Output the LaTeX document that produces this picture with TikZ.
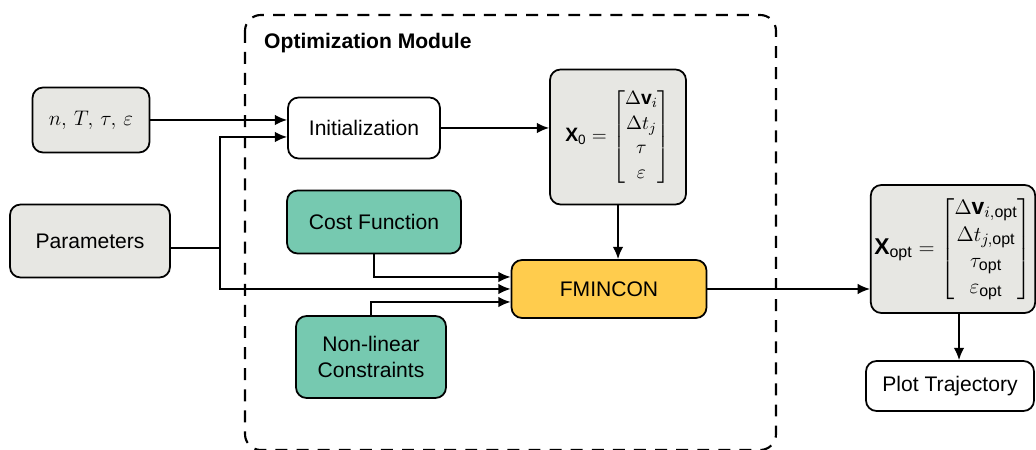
\documentclass[tikz,border=0pt]{standalone}
\usepackage{amsmath}
\usepackage{fontspec}
\setmainfont{Liberation Sans}
\usepackage{tikz}
\usetikzlibrary{arrows.meta,positioning,calc}
\definecolor{boxgray}{HTML}{E7E7E3}
\definecolor{costgreen}{HTML}{76C9B0}
\definecolor{fminorange}{HTML}{FFCC4D}
\tikzstyle{block} = [rectangle, draw, fill=white, align=center, rounded corners=6pt,
inner sep=2pt, line width=1pt, font=\fontsize{12}{14.5}\selectfont]
\tikzstyle{inputblock} = [block, fill=boxgray]
\tikzstyle{funcblock} = [block, fill=costgreen]
\tikzstyle{solverblock} = [block, fill=fminorange]
\tikzstyle{line} = [draw, -{Latex[length=7pt,width=6pt]}, line width=0.9pt]

\begin{document}
\begin{tikzpicture}[x=0.2mm, y=-0.2mm]
    \useasboundingbox (0,0) rectangle (1036,450);

    % Module frame
    \draw[line width=1.2pt, dash pattern=on 6.8pt off 5.2pt, rounded corners=9pt] (245,15) rectangle (776,450);
    \node[anchor=west, font=\bfseries\fontsize{12}{14}\selectfont] (modtitle) at (258,43) {Optimization Module};

    % Nodes
    \node [inputblock, minimum width=23.4mm, minimum height=13mm] (inputs) at (91,120) {$n,\,T,\,\tau,\,\varepsilon$};
    \node [inputblock, minimum width=32mm, minimum height=14.6mm] (params) at (90,241) {Parameters};
    \node [block, minimum width=30.4mm, minimum height=12.2mm] (init) at (364,128) {Initialization};
    \node [inputblock, minimum width=27.2mm, minimum height=27mm, font=\fontsize{11}{13}\selectfont] (xzero) at (618,137)
        {$\textbf{X}_{\text{0}} = \begin{bmatrix}\Delta\textbf{v}_i\\[1pt] \Delta t_j\\[1pt] \tau\\[1pt] \varepsilon\end{bmatrix}$};
    \node [funcblock, minimum width=34.8mm, minimum height=12.6mm] (cost) at (374,222) {Cost Function};
    \node [funcblock, minimum width=30mm, minimum height=16.4mm] (nlcon) at (371,357) {Non-linear\\Constraints};
    \node [solverblock, minimum width=39mm, minimum height=11.6mm] (fmincon) at (609,289) {FMINCON};
    \node [inputblock, minimum width=32.4mm, minimum height=25.6mm, font=\fontsize{13}{15}\selectfont] (xopt) at (953,249)
        {$\textbf{X}_{\text{opt}} = \begin{bmatrix}\Delta\textbf{v}_{i,\text{opt}}\\ \Delta t_{j,\text{opt}}\\ \tau_{\text{opt}}\\ \varepsilon_{\text{opt}}\end{bmatrix}$};
    \node [block, minimum width=33.6mm, minimum height=10mm] (plot) at (950,386) {Plot Trajectory};

    % arrows
    \coordinate (split) at (220,248);
    \coordinate (xoptout) at ($(xopt.south)+(6,0)$);
    \draw[line] (inputs.east) -- (init.west |- inputs.east);
    \draw[line width=0.9pt] (params.east |- split) -- (split);
    \draw[line] (split) |- ($(init.west)+(0,9)$);
    \draw[line] (split) |- (fmincon.west);
    \draw[line] (init.east) -- (xzero.west |- init.east);
    \draw[line] (xzero.south) -- (xzero.south |- fmincon.north);
    \draw[line] (cost.south) |- ($(fmincon.west)+(0,-12)$);
    \draw[line] (nlcon.north) |- ($(fmincon.west)+(0,13)$);
    \draw[line] (fmincon.east) -- (xopt.west |- fmincon.east);
    \draw[line] (xoptout) -- (xoptout |- plot.north);

\end{tikzpicture}
\end{document}
